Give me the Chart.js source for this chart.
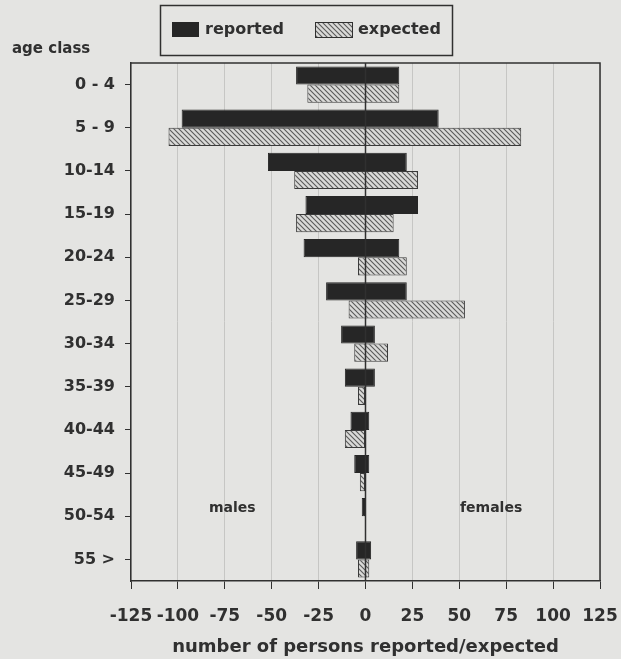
<!DOCTYPE html>
<html>
<head>
<meta charset="utf-8">
<script src="https://cdn.jsdelivr.net/npm/chart.js@4.4.1/dist/chart.umd.min.js"></script>
<style>
  html, body { margin: 0; padding: 0; background: #e4e4e2; }
  #wrap { width: 621px; height: 659px; }
</style>
</head>
<body>
<div id="wrap"><canvas id="pyramid"></canvas></div>
<script>
// age classes, youngest on top
const ageClasses = ['0 - 4', '5 - 9', '10-14', '15-19', '20-24', '25-29',
                    '30-34', '35-39', '40-44', '45-49', '50-54', '55 >'];

// number of persons (males negative, to the left)
const reportedMales   = [-37, -98, -52, -32, -33, -21, -13, -11, -8, -6, -2, -5];
const reportedFemales = [18, 39, 22, 28, 18, 22, 5, 5, 2, 2, 0, 3];
const expectedMales   = [-31, -105, -38, -37, -4, -9, -6, -4, -11, -3, 0, -4];
const expectedFemales = [18, 83, 28, 15, 22, 53, 12, 0, 0, 0, 0, 2];

const xMin = -125, xMax = 125, xStep = 25;

const ink = '#303030';
const font = '"DejaVu Sans", sans-serif';

// diagonal hatch for the "expected" bars
function makeHatch() {
    const s = 5;
    const c = document.createElement('canvas');
    c.width = s; c.height = s;
    const g = c.getContext('2d');
    g.fillStyle = '#dadad8';
    g.fillRect(0, 0, s, s);
    g.strokeStyle = '#5a5a5a';
    g.lineWidth = 1.1;
    g.beginPath();
    g.moveTo(0, 0); g.lineTo(s, s);
    g.moveTo(-1, s - 1); g.lineTo(1, s + 1);
    g.moveTo(s - 1, -1); g.lineTo(s + 1, 1);
    g.stroke();
    return g.createPattern(c, 'repeat');
}
const hatch = makeHatch();

// legend box, side labels, frame and zero line
const extras = {
    id: 'extras',
    afterDatasetsDraw(chart) {
        const c = chart.ctx;
        const a = chart.chartArea;
        const x0 = chart.scales.x.getPixelForValue(0);
        c.save();
        c.strokeStyle = ink;
        c.lineWidth = 1.5;
        c.beginPath();
        c.moveTo(x0, a.top);
        c.lineTo(x0, a.bottom);
        c.stroke();
        c.restore();
    },
    afterDraw(chart) {
        const c = chart.ctx;
        const a = chart.chartArea;
        const ds = chart.data.datasets;
        c.save();
        c.fillStyle = ink;
        c.textBaseline = 'middle';
        c.font = 'bold 15px ' + font;
        c.fillText('age class', 12, 49);

        // legend
        c.strokeStyle = ink;
        c.lineWidth = 1.5;
        c.strokeRect(160.5, 5.5, 292, 50);
        c.fillStyle = ds[0].backgroundColor;
        c.fillRect(172, 22, 27, 15);
        c.fillStyle = ds[1].backgroundColor;
        c.fillRect(315, 22, 37, 15);
        c.lineWidth = 1;
        c.strokeRect(315.5, 22.5, 37, 15);
        c.fillStyle = ink;
        c.font = 'bold 16px ' + font;
        c.fillText(ds[0].label, 205, 30);
        c.fillText(ds[1].label, 358, 30);

        c.font = 'bold 14px ' + font;
        c.fillText('males', 209, 508);
        c.fillText('females', 460, 508);

        // top and right frame
        c.lineWidth = 1.5;
        c.beginPath();
        c.moveTo(a.left, a.top);
        c.lineTo(a.right, a.top);
        c.lineTo(a.right, a.bottom);
        c.stroke();
        c.restore();
    }
};

new Chart(document.getElementById('pyramid'), {
    type: 'bar',
    data: {
        labels: ageClasses,
        datasets: [{
            label: 'reported',
            data: reportedMales.map((m, i) => [m, reportedFemales[i]]),
            backgroundColor: '#262626',
            borderColor: '#262626',
            borderWidth: 1,
            borderSkipped: false,
            categoryPercentage: 0.84,
            barPercentage: 1.0
        }, {
            label: 'expected',
            data: expectedMales.map((m, i) => [m, expectedFemales[i]]),
            backgroundColor: hatch,
            borderColor: '#3a3a3a',
            borderWidth: 1,
            borderSkipped: false,
            categoryPercentage: 0.84,
            barPercentage: 1.0
        }]
    },
    options: {
        indexAxis: 'y',
        responsive: true,
        maintainAspectRatio: false,
        animation: false,
        layout: { padding: { top: 63, right: 21, left: 0, bottom: 0 } },
        plugins: {
            legend: { display: false },
            tooltip: { enabled: false }
        },
        scales: {
            x: {
                min: xMin,
                max: xMax,
                afterFit: s => {
                    s.height = 78;
                    s.paddingLeft = 0;
                    s.paddingRight = 0;
                },
                ticks: {
                    stepSize: xStep,
                    color: ink,
                    padding: 17,
                    autoSkip: false,
                    maxRotation: 0,
                    minRotation: 0,
                    font: { family: font, size: 17, weight: 'bold' }
                },
                grid: {
                    color: '#c6c6c4',
                    lineWidth: 1,
                    tickLength: 8,
                    tickColor: ink
                },
                border: { display: true, color: ink, width: 1.5 },
                title: {
                    display: true,
                    text: 'number of persons reported/expected',
                    color: ink,
                    padding: { top: 0, bottom: 1 },
                    font: { family: font, size: 18, weight: 'bold' }
                }
            },
            y: {
                afterFit: s => { s.width = 131; },
                ticks: {
                    color: ink,
                    padding: 10,
                    font: { family: font, size: 16, weight: 'bold' }
                },
                grid: {
                    offset: false,
                    drawOnChartArea: false,
                    tickLength: 6,
                    tickColor: ink
                },
                border: { display: true, color: ink, width: 1.5 }
            }
        }
    },
    plugins: [extras]
});
</script>
</body>
</html>
